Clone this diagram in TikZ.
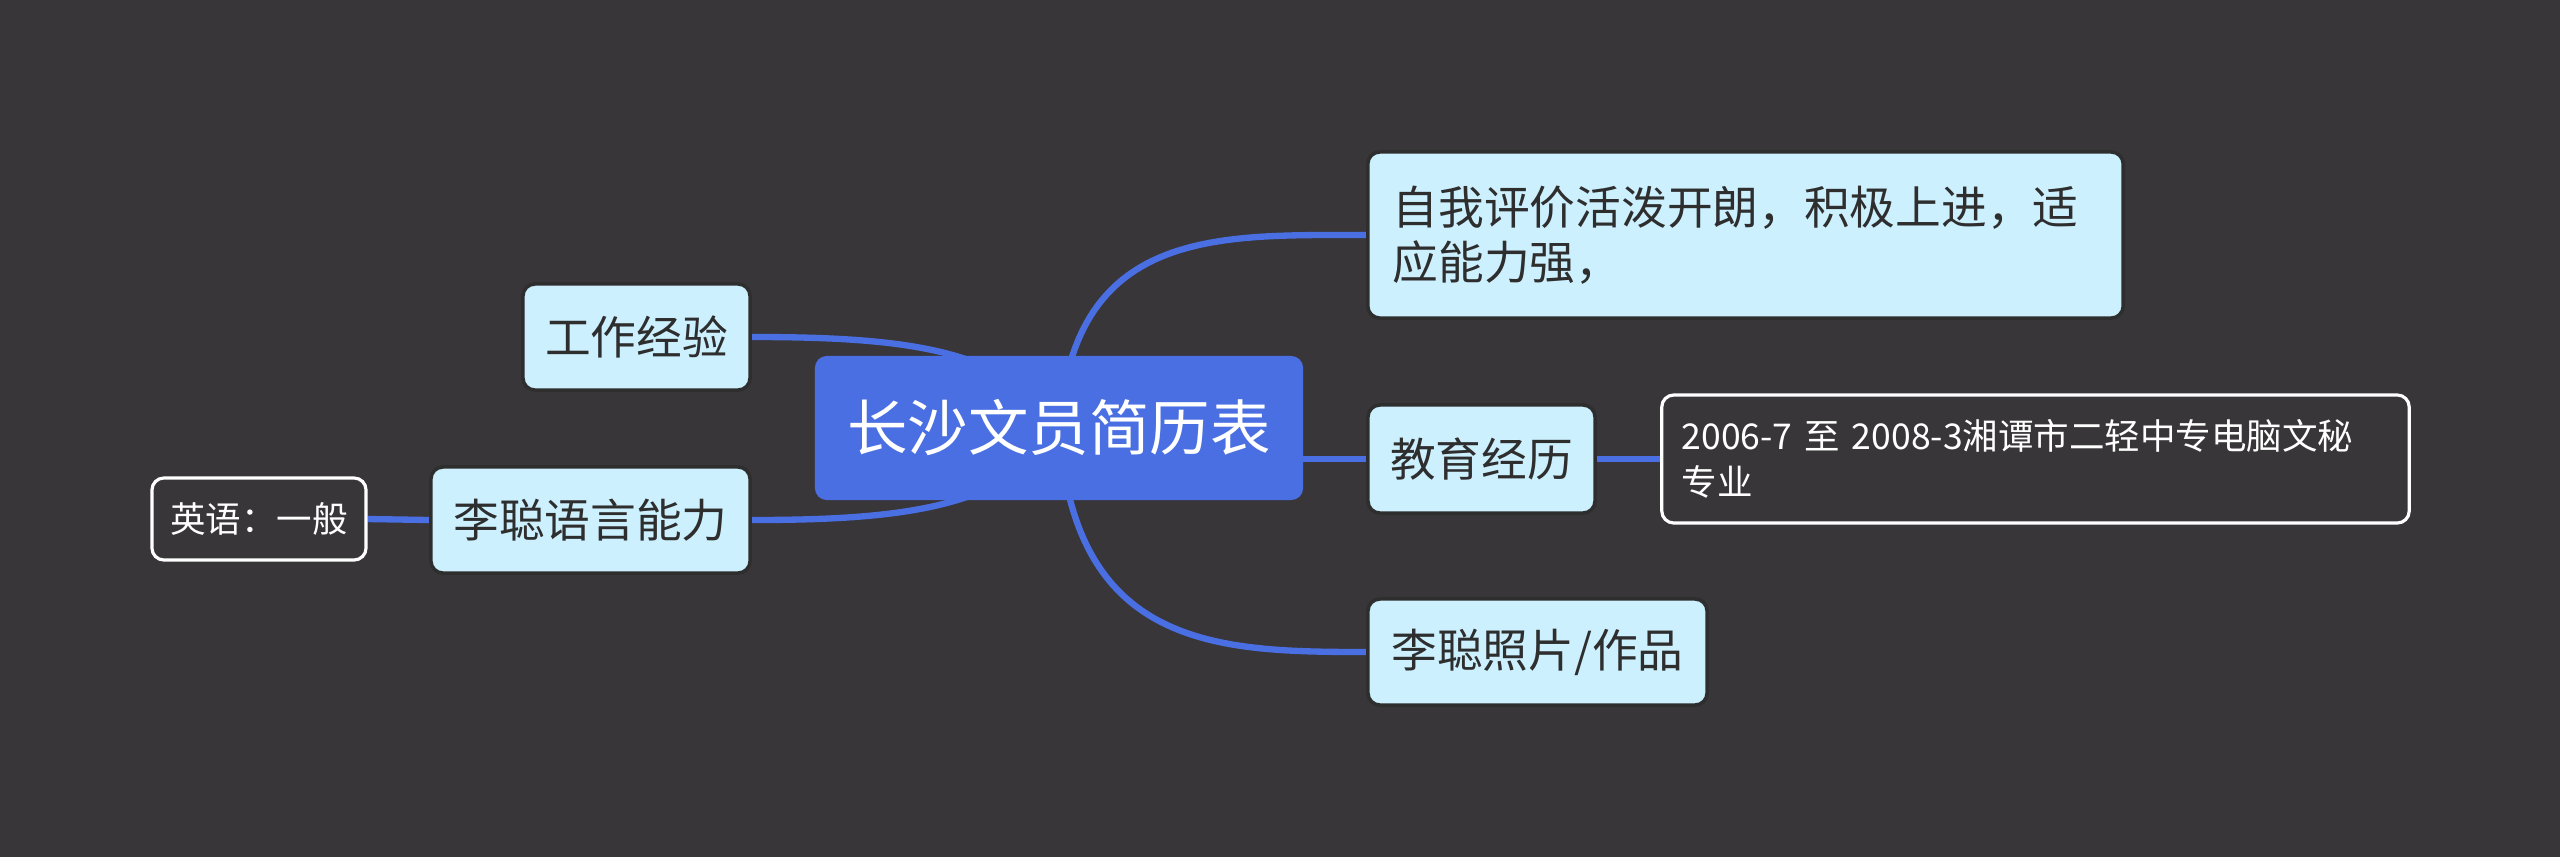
\documentclass[tikz,border=0pt]{standalone}
\usepackage{fontspec}
\setmainfont{Noto Sans CJK SC}
\usepackage{tikz}
\usetikzlibrary{backgrounds, calc}
\definecolor{bgdark}{HTML}{383638}
\definecolor{mapblue}{HTML}{4A6FE2}
\definecolor{paleblue}{HTML}{CCF0FE}
\definecolor{inkdark}{HTML}{2E2E2E}
\tikzset{
  topic/.style={draw=none, fill=mapblue, rounded corners=0.12cm, text=white,
      font=\fontsize{17.2pt}{20pt}\selectfont, minimum width=4.88cm, minimum height=1.44cm},
  subtopic/.style={draw=inkdark, line width=1pt, fill=paleblue, rounded corners=0.12cm, text=inkdark,
      font=\fontsize{13pt}{15.8pt}\selectfont, minimum height=1.06cm, inner sep=0pt},
  leaf/.style={draw=white, line width=0.9pt, fill=bgdark, rounded corners=0.12cm, text=white,
      font=\fontsize{10.1pt}{13pt}\selectfont, inner sep=0pt},
  branch/.style={draw=mapblue, line width=1.8pt},
}

\begin{document}
\begin{tikzpicture}[x=0.01cm, y=-0.01cm]
  \begin{scope}[on background layer]
    \fill[bgdark] (0,0) rectangle (2560,857);
  \end{scope}
  \useasboundingbox (0,0) rectangle (2560,857);
  \node[topic] (resume) at (1059,428) {长沙文员简历表};
  \node[subtopic, minimum width=7.55cm, minimum height=1.66cm, text width=7.05cm, align=left, inner xsep=0.25cm]
    (selfeval) at (1745.5,235) {自我评价活泼开朗，积极上进，适\\应能力强，};
  \node[subtopic, minimum width=2.27cm, minimum height=1.08cm] (edu) at (1481.5,459) {教育经历};
  \node[leaf, minimum width=7.47cm, minimum height=1.28cm, text width=7.07cm, align=left, inner xsep=0.2cm]
    (edudetail) at (2035.5,459) {2006-7 至 2008-3湘谭市二轻中专电脑文秘\\专业};
  \node[subtopic, minimum width=3.39cm] (photo) at (1537.5,652) {李聪照片/作品};
  \node[subtopic, minimum width=2.27cm] (work) at (636.5,337) {工作经验};
  \node[subtopic, minimum width=3.19cm] (lang) at (590.5,520) {李聪语言能力};
  \node[leaf, minimum width=2.14cm, minimum height=0.82cm] (english) at (259,519) {英语：一般};
  \begin{scope}[on background layer]
    \draw[branch] (resume.center) .. controls +(15,-200) and +(-150,0) .. (selfeval.west);
    \draw[branch] (resume.center) .. controls +(15,220) and +(-150,0) .. (photo.west);
    \draw[branch] (edu.west) -- (edu.west -| resume.center);
    \draw[branch] (resume.center) .. controls +(-50,-80) and +(150,0) .. (work.east);
    \draw[branch] (resume.center) .. controls +(-50,80) and +(150,0) .. (lang.east);
    \draw[branch] (edu.east) -- (edudetail.west);
    \draw[branch] (english.east) -- (lang.west);
  \end{scope}
\end{tikzpicture}
\end{document}
